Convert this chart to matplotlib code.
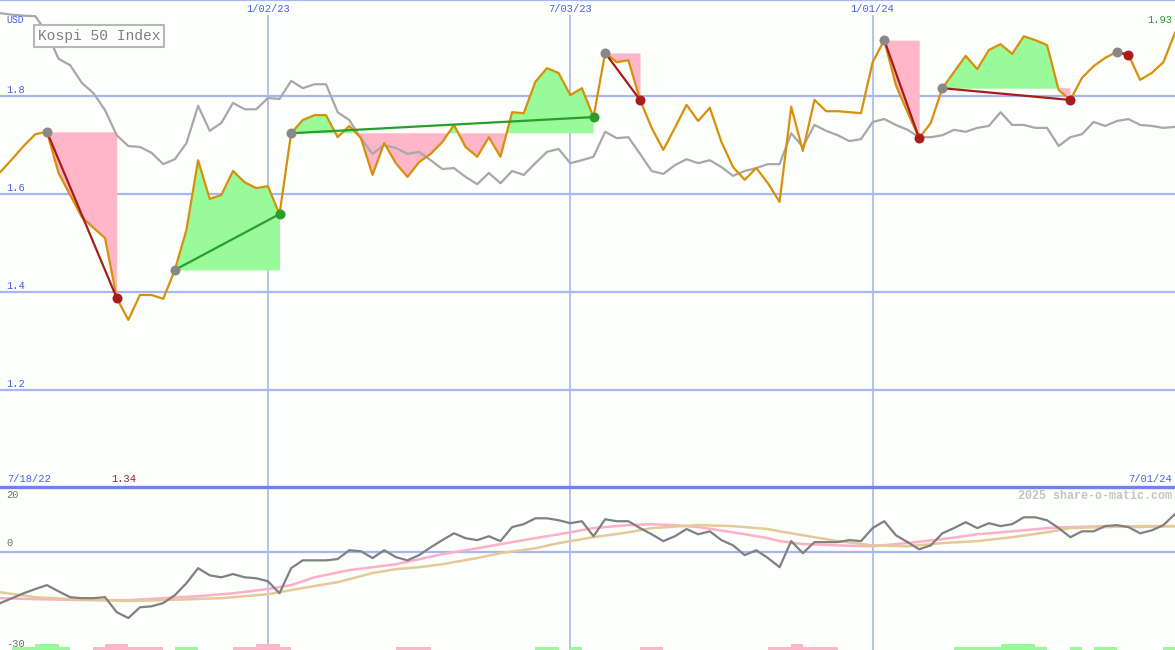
import matplotlib
matplotlib.use('Agg')
import matplotlib.pyplot as plt
import numpy as np
import pandas as pd

plt.rcParams['font.family'] = ['Liberation Mono', 'DejaVu Sans Mono']

# weekly closes, first week 7/25/22, last week 7/01/24
weeks = pd.date_range('2022-07-25', periods=102, freq='7D')

kospi = [1.645, 1.671, 1.698, 1.722, 1.727, 1.643, 1.598, 1.553, 1.531, 1.510,
         1.388, 1.343, 1.394, 1.394, 1.386, 1.445, 1.527, 1.669, 1.590, 1.598,
         1.647, 1.624, 1.612, 1.616, 1.559, 1.724, 1.751, 1.761, 1.761, 1.716,
         1.739, 1.714, 1.639, 1.704, 1.663, 1.635, 1.665, 1.682, 1.706, 1.741,
         1.696, 1.676, 1.716, 1.676, 1.767, 1.765, 1.829, 1.857, 1.847, 1.802,
         1.816, 1.757, 1.888, 1.869, 1.873, 1.792, 1.735, 1.690, 1.735, 1.782,
         1.749, 1.776, 1.706, 1.655, 1.629, 1.653, 1.622, 1.584, 1.778, 1.688,
         1.792, 1.769, 1.769, 1.767, 1.765, 1.869, 1.914, 1.822, 1.767, 1.714,
         1.745, 1.816, 1.849, 1.882, 1.855, 1.894, 1.906, 1.886, 1.922, 1.914,
         1.904, 1.812, 1.792, 1.837, 1.861, 1.878, 1.890, 1.884, 1.833, 1.847,
         1.869, 1.929]

# comparison line (grey)
benchmark = [1.969, 1.966, 1.964, 1.963, 1.929, 1.876, 1.863, 1.827, 1.806, 1.771,
             1.720, 1.698, 1.696, 1.684, 1.661, 1.671, 1.704, 1.780, 1.729, 1.745,
             1.786, 1.773, 1.773, 1.796, 1.794, 1.831, 1.816, 1.824, 1.824, 1.767,
             1.751, 1.714, 1.682, 1.700, 1.694, 1.682, 1.686, 1.669, 1.651, 1.653,
             1.635, 1.620, 1.643, 1.622, 1.647, 1.639, 1.663, 1.686, 1.692, 1.663,
             1.669, 1.676, 1.727, 1.714, 1.716, 1.682, 1.647, 1.641, 1.659, 1.671,
             1.663, 1.669, 1.655, 1.637, 1.647, 1.653, 1.661, 1.661, 1.724, 1.696,
             1.741, 1.729, 1.720, 1.708, 1.712, 1.747, 1.753, 1.741, 1.731, 1.716,
             1.716, 1.720, 1.731, 1.727, 1.735, 1.739, 1.767, 1.741, 1.741, 1.735,
             1.735, 1.698, 1.716, 1.722, 1.747, 1.739, 1.749, 1.753, 1.741, 1.739,
             1.735, 1.737]

# lower panel oscillator
osc = [-15.6, -14.1, -12.6, -11.3, -10.1, -12.0, -13.8, -14.1, -14.1, -13.8,
       -18.4, -20.2, -16.9, -16.6, -15.6, -13.2, -9.5, -4.9, -7.1, -7.7,
       -6.7, -7.7, -8.0, -8.9, -12.6, -4.9, -2.5, -2.5, -2.5, -2.1,
       0.6, 0.3, -1.8, 0.6, -1.5, -2.5, -0.9, 1.5, 3.7, 5.8,
       4.3, 3.7, 4.9, 3.4, 7.7, 8.6, 10.4, 10.4, 9.8, 8.9,
       9.5, 4.9, 10.1, 9.5, 9.5, 7.4, 5.5, 3.4, 4.9, 7.1,
       5.5, 6.4, 3.7, 2.1, -0.9, 0.6, -1.8, -4.6, 3.4, -0.3,
       3.1, 3.1, 3.1, 3.7, 3.4, 7.4, 9.5, 5.2, 3.1, 0.9,
       2.1, 5.8, 7.4, 9.2, 7.4, 8.9, 8.0, 8.6, 10.7, 10.7,
       9.8, 7.4, 4.6, 6.4, 6.4, 8.0, 8.3, 7.7, 5.8, 6.7,
       8.3, 11.7]

# smoothed lines, read at sparse weeks
fast_wk = [0, 3, 7, 11, 14, 17, 20, 23, 25, 27, 30, 34, 38, 41, 44, 47, 49, 51,
           54, 56, 58, 60, 63, 66, 67, 69, 72, 75, 78, 81, 84, 87, 90, 92, 95, 98, 101]
fast = [-14.1, -14.4, -14.7, -14.7, -14.1, -13.5, -12.6, -11.3, -10.1, -7.7, -5.5,
        -3.7, -0.6, 1.2, 3.1, 4.9, 6.1, 7.4, 8.3, 8.6, 8.3, 7.7, 6.1, 4.3, 3.4,
        2.5, 2.1, 1.8, 2.8, 4.0, 5.5, 6.4, 7.4, 7.7, 8.0, 7.7, 8.0]
slow_wk = [0, 3, 6, 11, 14, 19, 23, 26, 29, 32, 34, 36, 38, 41, 43, 46, 48, 51,
           54, 56, 60, 63, 66, 67, 69, 72, 75, 78, 81, 84, 87, 90, 92, 95, 98, 101]
slow = [-12.3, -13.8, -14.4, -15.0, -14.7, -14.1, -12.9, -11.0, -9.2, -6.4, -5.2,
        -4.6, -3.7, -1.8, -0.3, 1.2, 2.8, 4.6, 6.1, 7.4, 8.3, 8.0, 7.1, 6.4, 5.2,
        3.4, 2.1, 1.8, 2.8, 3.4, 4.6, 6.1, 7.4, 7.7, 8.0, 8.0]

# swing segments: start week, end week
swing_start = [4, 15, 25, 52, 76, 81, 96]
swing_end = [10, 24, 51, 55, 79, 92, 97]

# signal strip along the bottom: start week, end week, level
up_bars = [(1, 6, 1), (3, 5, 2), (15, 17, 1), (46, 48, 1), (49, 50, 1),
           (82, 90, 1), (86, 89, 2), (92, 93, 1), (94, 96, 1), (100, 101.2, 1)]
down_bars = [(8, 14, 1), (9, 11, 2), (20, 25, 1), (22, 24, 2), (34, 37, 1),
             (55, 57, 1), (66, 72, 1), (68, 69, 2)]

price_ticks = [1.2, 1.4, 1.6, 1.8]
osc_ticks = [20, 0, -30]
grid_dates = ['2023-01-02', '2023-07-03', '2024-01-01']

BG = '#fcfffc'
GRID = '#a8b6f2'
BLUE_TXT = '#4a5cf0'
PINK = '#ffb6c8'
GREEN = '#98fa98'
DOWN = '#a81c1c'
UP = '#2a9e2a'

W, H = 1175, 650
SPLIT = 487
fig = plt.figure(figsize=(W / 100, H / 100), dpi=100)
fig.patch.set_facecolor(BG)
ax = fig.add_axes([0, 1 - SPLIT / H, 1, SPLIT / H])
ax2 = fig.add_axes([0, 0, 1, 1 - SPLIT / H])

x = np.arange(len(kospi))
price = np.array(kospi)
xmin, xmax = -0.034, 101.0
for a in (ax, ax2):
    a.set_xlim(xmin, xmax)
    a.axis('off')
ax.set_ylim(1.002, 1.996)
ax2.set_ylim(-30, 20)

# grid
for v in price_ticks:
    ax.axhline(v, color=GRID, lw=1.6, zorder=1)
ax.axhline(1.996, color=GRID, lw=1.6, zorder=1, clip_on=False)
grid_idx = [weeks.get_loc(pd.Timestamp(d)) for d in grid_dates]
for gi in grid_idx:
    ax.axvline(gi, ymax=1 - 16 / SPLIT, color=GRID, lw=1.2, zorder=1)
    ax2.axvline(gi, color=GRID, lw=1.2, zorder=1)
ax2.axhline(0, color=GRID, lw=1.6, zorder=1)
ax2.axhline(20, color='#7282ea', lw=2.4, zorder=5, clip_on=False)

# swing fills
for s, e in zip(swing_start, swing_end):
    xs = x[s:e + 1]
    ys = price[s:e + 1]
    lvl = price[s]
    ax.fill_between(xs, ys, lvl, where=ys >= lvl, interpolate=True,
                    color=GREEN, lw=0, zorder=2)
    ax.fill_between(xs, ys, lvl, where=ys <= lvl, interpolate=True,
                    color=PINK, lw=0, zorder=2)

ax.plot(x, benchmark, color='#a8a8a8', lw=1.6, zorder=3)
ax.plot(x, kospi, color='#d8900a', lw=1.6, zorder=4)

for s, e in zip(swing_start, swing_end):
    c = UP if price[e] > price[s] else DOWN
    ax.plot([s, e], [price[s], price[e]], color=c, lw=1.6, zorder=5)
    ax.plot(s, price[s], 'o', color='#888888', ms=7.2, mec='none', zorder=6)
    ax.plot(e, price[e], 'o', color=c, ms=7.2, mec='none', zorder=6)

# lower panel
ax2.plot(fast_wk, fast, color='#ffb0c8', lw=1.8, zorder=3)
ax2.plot(slow_wk, slow, color='#e4ca98', lw=1.8, zorder=3)
ax2.plot(x, osc, color='#808080', lw=1.6, zorder=4)
for bars, col in ((up_bars, GREEN), (down_bars, PINK)):
    for s, e, lv in bars:
        ax2.bar(s, 0.9 * lv, width=e - s, bottom=-30, align='edge',
                color=col, lw=0, zorder=2)

# labels
def label(a, s, xy, xycoords, off, color, size=7.5, **kw):
    a.annotate(s, xy=xy, xycoords=xycoords, xytext=off,
               textcoords='offset pixels', color=color, fontsize=size, **kw)

for v in price_ticks:
    label(ax, f'{v:.1f}', (0, v), ax.get_yaxis_transform(), (6, 3),
          BLUE_TXT, va='baseline', ha='left')
for v, dy in zip(osc_ticks, [-8, 6, 3]):
    label(ax2, f'{v}', (0, v), ax2.get_yaxis_transform(), (6, dy),
          '#707070', va='center' if v == 20 else 'baseline', ha='left')
for gi, d in zip(grid_idx, grid_dates):
    t = pd.Timestamp(d)
    label(ax, f'{t.month}/{t.day:02d}/{t.year % 100}', (gi, 1),
          ax.get_xaxis_transform(), (0, -9), BLUE_TXT, ha='center', va='center')

label(ax, 'USD', (0, 1), 'axes fraction', (6, -20), BLUE_TXT, size=7,
      ha='left', va='center')
label(ax2, '7/18/22', (0, 1), 'axes fraction', (7, 8), BLUE_TXT,
      ha='left', va='center')
last = weeks[-1]
label(ax2, f'{last.month}/{last.day:02d}/{last.year % 100}', (1, 1),
      'axes fraction', (-3, 8), BLUE_TXT, ha='right', va='center')
imin = int(np.argmin(price))
label(ax2, f'{price[imin]:.2f}', (imin, 1), ax2.get_xaxis_transform(), (-5, 8),
      DOWN, ha='center', va='center')
label(ax, f'{price[-1]:.2f}', (1, 1), 'axes fraction', (-3, -20), UP,
      ha='right', va='center')
label(ax2, '2025 share-o-matic.com', (1, 1), 'axes fraction', (-3, -9),
      '#c4c4c4', size=8.4, ha='right', va='center', fontweight='bold')

ax.annotate('Kospi 50 Index', xy=(0, 1), xycoords='axes fraction',
            xytext=(38, -36), textcoords='offset pixels', color='#808080',
            fontsize=10.5, ha='left', va='center', zorder=7,
            bbox=dict(boxstyle='square,pad=0.25', fc=BG, ec='#b8b8b8', lw=1.5))

fig.savefig('out.png', dpi=100, facecolor=BG)
